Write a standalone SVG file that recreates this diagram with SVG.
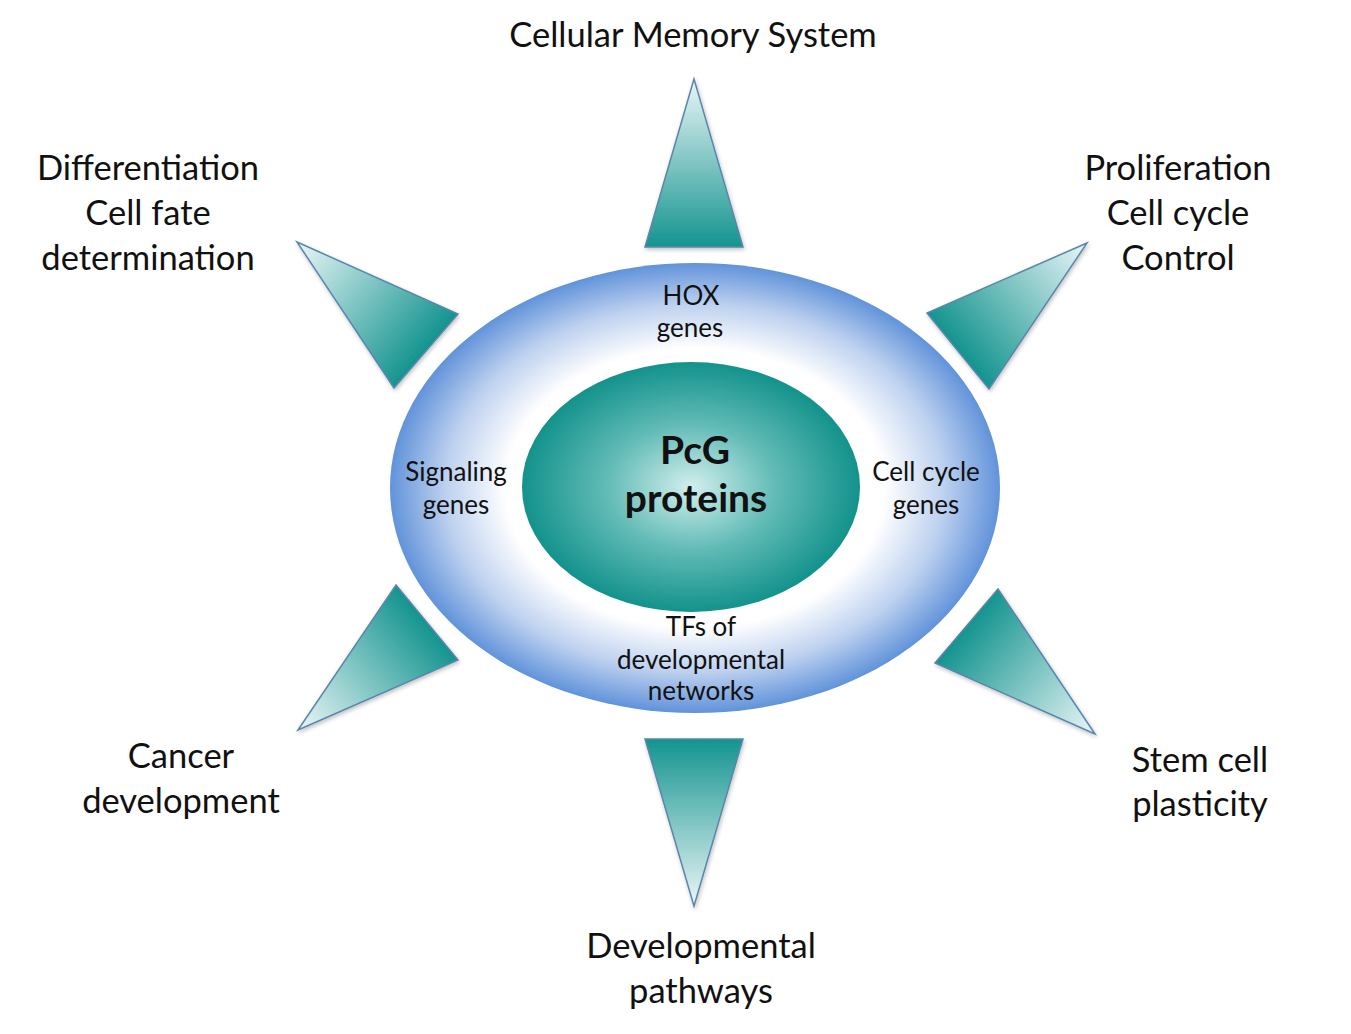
<svg xmlns="http://www.w3.org/2000/svg" width="1351" height="1034" viewBox="0 0 1351 1034">
<defs>
<style>
.lbl{font-family:Lato,"Open Sans","Liberation Sans",sans-serif;font-size:34.5px;fill:#111;text-anchor:middle}
.in{font-family:Lato,"Open Sans","Liberation Sans",sans-serif;font-size:26px;fill:#111;text-anchor:middle}
.pcg{font-family:Lato,"Open Sans","Liberation Sans",sans-serif;font-size:39px;font-weight:bold;fill:#111;text-anchor:middle}
.tri{stroke:#5a86ad;stroke-width:1.5;stroke-linejoin:miter;filter:url(#sh)}
</style>
<filter id="sh" x="-20%" y="-20%" width="140%" height="140%">
<feGaussianBlur in="SourceAlpha" stdDeviation="2"/>
<feOffset dx="1" dy="2"/>
<feComponentTransfer><feFuncA type="linear" slope="0.25"/></feComponentTransfer>
<feMerge><feMergeNode/><feMergeNode in="SourceGraphic"/></feMerge>
</filter>
<radialGradient id="outer" cx="0.5" cy="0.5" r="0.5">
<stop offset="0" stop-color="#ffffff"/>
<stop offset="0.62" stop-color="#ffffff"/>
<stop offset="0.82" stop-color="#bcd0ef"/>
<stop offset="1" stop-color="#6193da"/>
</radialGradient>
<radialGradient id="inner" cx="0.5" cy="0.5" r="0.5">
<stop offset="0" stop-color="#d2efed"/>
<stop offset="0.5" stop-color="#62bbb6"/>
<stop offset="1" stop-color="#13928c"/>
</radialGradient>
<linearGradient id="gT" gradientUnits="userSpaceOnUse" x1="694" y1="79" x2="694" y2="247"><stop offset="0" stop-color="#eaf6f7"/><stop offset="1" stop-color="#14948f"/></linearGradient>
<linearGradient id="gB" gradientUnits="userSpaceOnUse" x1="694" y1="906" x2="694" y2="739"><stop offset="0" stop-color="#eaf6f7"/><stop offset="1" stop-color="#14948f"/></linearGradient>
<linearGradient id="gTL" gradientUnits="userSpaceOnUse" x1="297" y1="242" x2="426" y2="351"><stop offset="0" stop-color="#eaf6f7"/><stop offset="1" stop-color="#14948f"/></linearGradient>
<linearGradient id="gTR" gradientUnits="userSpaceOnUse" x1="1087" y1="243" x2="958" y2="351"><stop offset="0" stop-color="#eaf6f7"/><stop offset="1" stop-color="#14948f"/></linearGradient>
<linearGradient id="gBL" gradientUnits="userSpaceOnUse" x1="298" y1="730" x2="427" y2="622"><stop offset="0" stop-color="#eaf6f7"/><stop offset="1" stop-color="#14948f"/></linearGradient>
<linearGradient id="gBR" gradientUnits="userSpaceOnUse" x1="1095" y1="734" x2="966" y2="626"><stop offset="0" stop-color="#eaf6f7"/><stop offset="1" stop-color="#14948f"/></linearGradient>
</defs>
<rect width="1351" height="1034" fill="#ffffff"/>

<g id="center">
<ellipse cx="695" cy="488" rx="305" ry="225" fill="url(#outer)"/>
<ellipse cx="691" cy="487" rx="169" ry="125" fill="url(#inner)"/>
<text class="pcg" x="695" y="464">PcG</text>
<text class="pcg" x="696" y="512">proteins</text>
<text class="in" x="691" y="305">HOX</text>
<text class="in" x="690" y="337">genes</text>
<text class="in" x="456" y="481">Signaling</text>
<text class="in" x="456" y="514">genes</text>
<text class="in" x="926" y="481">Cell cycle</text>
<text class="in" x="926" y="514">genes</text>
<text class="in" x="701" y="636">TFs of</text>
<text class="in" x="701" y="669">developmental</text>
<text class="in" x="701" y="700">networks</text>
</g>

<g id="memory">
<polygon class="tri" points="694,79 743,247 645,247" fill="url(#gT)"/>
<text class="lbl" x="693" y="47">Cellular Memory System</text>
</g>
<g id="differentiation">
<polygon class="tri" points="297,242 458,314 394,388" fill="url(#gTL)"/>
<text class="lbl" x="148" y="180">Differentiation</text>
<text class="lbl" x="148" y="225">Cell fate</text>
<text class="lbl" x="148" y="270">determination</text>
</g>
<g id="proliferation">
<polygon class="tri" points="1087,243 927,313 989,389" fill="url(#gTR)"/>
<text class="lbl" x="1178" y="180">Proliferation</text>
<text class="lbl" x="1178" y="225">Cell cycle</text>
<text class="lbl" x="1178" y="270">Control</text>
</g>
<g id="cancer">
<polygon class="tri" points="298,730 396,585 458,660" fill="url(#gBL)"/>
<text class="lbl" x="181" y="768">Cancer</text>
<text class="lbl" x="181" y="813">development</text>
</g>
<g id="stemcell">
<polygon class="tri" points="1095,734 998,589 935,663" fill="url(#gBR)"/>
<text class="lbl" x="1200" y="772">Stem cell</text>
<text class="lbl" x="1200" y="816">plasticity</text>
</g>
<g id="developmental">
<polygon class="tri" points="645,739 743,739 694,906" fill="url(#gB)"/>
<text class="lbl" x="701" y="958">Developmental</text>
<text class="lbl" x="701" y="1003">pathways</text>
</g>
<g id="connectors"/>
</svg>
